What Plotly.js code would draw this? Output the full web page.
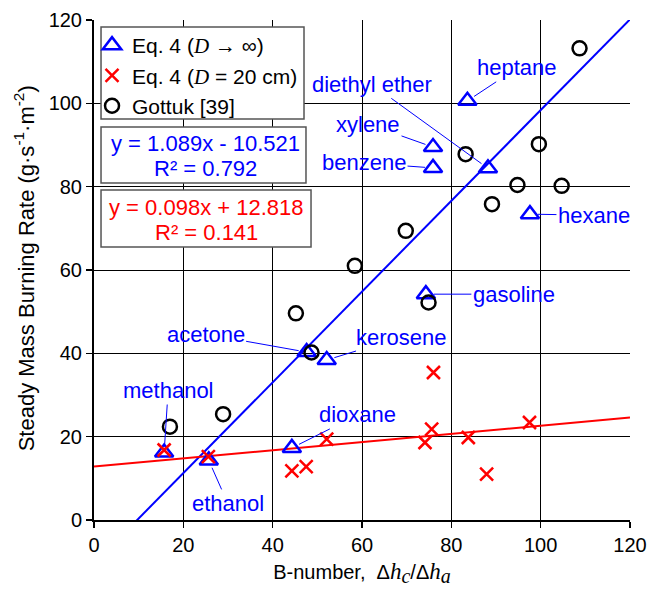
<!DOCTYPE html>
<html>
<head>
<meta charset="utf-8">
<script src="https://cdn.plot.ly/plotly-3.0.1.min.js"></script>
<style>html,body{margin:0;padding:0;background:#fff;}#chart{width:654px;height:590px;}</style>
</head>
<body>
<div id="chart"></div>
<script>
// Eq. 4 (D -> infinity), blue triangles
const fuelNames = ['heptane','diethyl ether','xylene','benzene','hexane','gasoline','acetone','kerosene','dioxane','methanol','ethanol'];
const infX = [83.6, 88.2, 75.9, 75.9, 97.6, 74.3, 47.6, 52.1, 44.3, 15.7, 25.7];
const infY = [100.6, 84.4, 89.5, 84.5, 73.4, 54.2, 40.3, 38.4, 17.3, 16.2, 14.3];
// label offsets (pixels) for fuel annotations
const labelAX = [50, -116, -65, -69, 64, 88, -101, 75, 66, 4, 19];
const labelAY = [-33, -84, -23, -5, 1, 0, -18, -23, -33, -62, 43];

// Eq. 4 (D = 20 cm), red crosses
const d20X = [15.7, 25.6, 76.0, 75.6, 74.1, 83.8, 87.9, 97.5, 52.1, 44.3, 47.5];
const d20Y = [16.8, 15.2, 35.4, 21.8, 18.6, 19.8, 11.0, 23.4, 19.4, 11.8, 12.8];

// Gottuk [39], black circles
const gotX = [108.7, 99.6, 83.2, 94.8, 104.7, 89.1, 69.8, 58.4, 45.2, 48.7, 28.9, 17.0, 74.9];
const gotY = [113.2, 90.2, 87.8, 80.4, 80.2, 75.8, 69.4, 61.0, 49.6, 40.2, 25.4, 22.4, 52.2];

// linear fits
const fitBlue = {slope: 1.089, intercept: -10.521, r2: 0.792};
const fitRed = {slope: 0.098, intercept: 12.818, r2: 0.141};
const fitXRange = [0, 120];

const xTicks = [0, 20, 40, 60, 80, 100, 120];
const yTicks = [0, 20, 40, 60, 80, 100, 120];

const FONT = 'Liberation Sans, Arial, sans-serif';
const serif = (s, sz) => '<span style="font-family:\'Liberation Serif\',serif;font-style:italic' + (sz ? ';font-size:' + sz + 'px' : '') + '">' + s + '</span>';

const lineY = (f) => fitXRange.map(x => f.slope * x + f.intercept);

const traces = [
  {x: fitXRange, y: lineY(fitBlue), mode: 'lines', line: {color: '#0000ff', width: 2}, showlegend: false, hoverinfo: 'skip'},
  {x: fitXRange, y: lineY(fitRed), mode: 'lines', line: {color: '#ff0000', width: 2}, showlegend: false, hoverinfo: 'skip'},
  {x: infX, y: infY, mode: 'markers', name: 'Eq. 4 (' + serif('D') + ' → ∞)',
   marker: {symbol: 'triangle-up-open', size: 16, color: '#0000ff', line: {width: 2.5, color: '#0000ff'}}},
  {x: d20X, y: d20Y, mode: 'markers', name: 'Eq. 4 (' + serif('D') + ' = 20 cm)',
   marker: {symbol: 'x-thin-open', size: 13, color: '#ff0000', line: {width: 2.5, color: '#ff0000'}}},
  {x: gotX, y: gotY, mode: 'markers', name: 'Gottuk [39]',
   marker: {symbol: 'circle-open', size: 14, color: '#000000', line: {width: 2.5, color: '#000000'}}}
];

const annotations = fuelNames.map((n, i) => ({
  x: infX[i], y: infY[i], xref: 'x', yref: 'y', text: n,
  showarrow: true, arrowhead: 0, arrowwidth: 1, arrowcolor: '#0000ff',
  ax: labelAX[i], ay: labelAY[i], standoff: 8, startstandoff: 0,
  font: {family: FONT, size: 22, color: '#0000ff'}
}));

const eqLine1 = (f) => 'y = ' + f.slope.toFixed(3) + 'x ' + (f.intercept < 0 ? '- ' : '+ ') + Math.abs(f.intercept).toFixed(3);
const eqLine2 = (f) => 'R² = ' + f.r2.toFixed(3);

function eqText(txt, x, y, color) {
  return {xref: 'paper', yref: 'paper', x: x, y: y, xanchor: 'center', yanchor: 'middle',
    text: txt, showarrow: false, font: {family: FONT, size: 22, color: color}};
}
annotations.push(eqText(eqLine1(fitBlue), 0.2071, 0.754, '#0000ff'));
annotations.push(eqText(eqLine2(fitBlue), 0.2071, 0.704, '#0000ff'));
annotations.push(eqText(eqLine1(fitRed), 0.2090, 0.626, '#ff0000'));
annotations.push(eqText(eqLine2(fitRed), 0.2090, 0.576, '#ff0000'));

// y-axis title as rotated annotation
annotations.push({
  xref: 'paper', yref: 'paper', x: -0.13, y: 0.504, xanchor: 'center', yanchor: 'middle',
  textangle: -90, showarrow: false,
  text: 'Steady Mass Burning Rate (g·s<sup>-1</sup>·m<sup>-2</sup>)',
  font: {family: FONT, size: 22, color: '#000'}
});

const boxStyle = {type: 'rect', xref: 'paper', yref: 'paper', fillcolor: '#ffffff', line: {color: '#555555', width: 1.5}, layer: 'above'};
const shapes = [
  Object.assign({}, boxStyle, {x0: 0.0131, x1: 0.3918, y0: 0.802, y1: 0.986}),
  Object.assign({}, boxStyle, {x0: 0.0131, x1: 0.3955, y0: 0.674, y1: 0.786}),
  Object.assign({}, boxStyle, {x0: 0.0131, x1: 0.4049, y0: 0.546, y1: 0.660})
];

const layout = {
  width: 654, height: 590,
  margin: {l: 94, r: 24, t: 20, b: 70},
  paper_bgcolor: '#ffffff', plot_bgcolor: '#ffffff',
  font: {family: FONT, size: 20, color: '#000000'},
  xaxis: {
    range: [0, 120], tickvals: xTicks, ticks: 'outside', ticklen: 6, tickwidth: 1.5, tickcolor: '#000',
    showgrid: true, gridcolor: '#000000', gridwidth: 1,
    showline: true, linecolor: '#000000', linewidth: 2, zeroline: false,
    tickfont: {family: FONT, size: 20, color: '#000'},
    title: {text: 'B-number,  Δ' + serif('h', 23) + '<sub>' + serif('c', 20) + '</sub>/Δ' + serif('h', 23) + '<sub>' + serif('a', 20) + '</sub>',
            font: {family: FONT, size: 20, color: '#000'}, standoff: 10}
  },
  yaxis: {
    range: [0, 120], tickvals: yTicks, ticks: 'outside', ticklen: 6, tickwidth: 1.5, tickcolor: '#000',
    showgrid: true, gridcolor: '#000000', gridwidth: 1,
    showline: true, linecolor: '#000000', linewidth: 2, zeroline: false,
    tickfont: {family: FONT, size: 20, color: '#000'}
  },
  legend: {
    x: -0.0037, y: 0.99, xanchor: 'left', yanchor: 'top',
    bgcolor: 'rgba(0,0,0,0)', borderwidth: 0,
    font: {family: FONT, size: 21, color: '#000'},
    itemwidth: 30, tracegroupgap: 0
  },
  shapes: shapes,
  annotations: annotations,
  showlegend: true
};

Plotly.newPlot('chart', traces, layout, {displayModeBar: false, staticPlot: true});
</script>
</body>
</html>
